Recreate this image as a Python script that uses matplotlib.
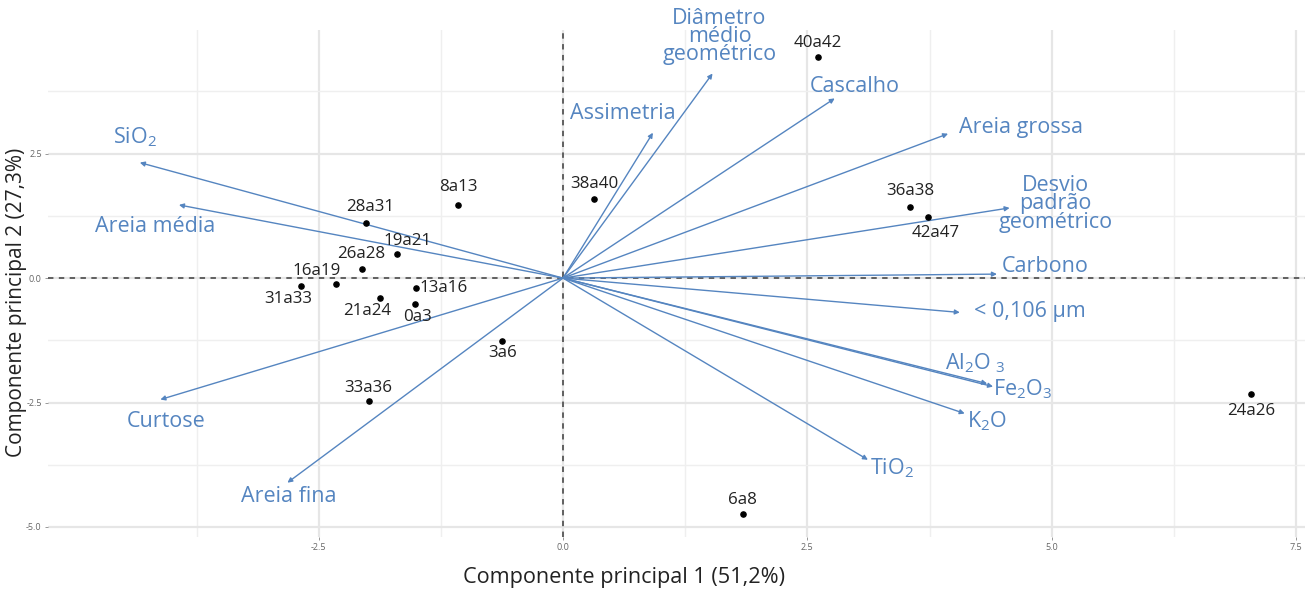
import numpy as np
import matplotlib.pyplot as plt

plt.rcParams['font.family'] = ['Open Sans', 'DejaVu Sans']
plt.rcParams['mathtext.fontset'] = 'custom'
plt.rcParams['mathtext.rm'] = 'Open Sans'
plt.rcParams['mathtext.it'] = 'Open Sans:italic'

# scores of the samples (depth intervals)
amostras = ['40a42', '8a13', '38a40', '28a31', '19a21', '26a28', '16a19', '31a33',
            '13a16', '21a24', '0a3', '3a6', '33a36', '36a38', '42a47', '24a26', '6a8']
pc1 = [2.61, -1.07, 0.32, -2.02, -1.70, -2.06, -2.32, -2.68,
       -1.50, -1.87, -1.51, -0.62, -1.99, 3.55, 3.73, 7.04, 1.84]
pc2 = [4.44, 1.47, 1.59, 1.11, 0.48, 0.18, -0.12, -0.16,
       -0.20, -0.40, -0.52, -1.27, -2.46, 1.43, 1.23, -2.32, -4.74]

# loadings (scaled) of the variables
variaveis = ['SiO$_2$', 'Areia média', 'Curtose', 'Areia fina', 'Assimetria',
             'Diâmetro\nmédio\ngeométrico', 'Cascalho', 'Areia grossa',
             'Desvio\npadrão\ngeométrico', 'Carbono', '< 0,106 µm',
             'Al$_2$O $_3$', 'Fe$_2$O$_3$', 'K$_2$O', 'TiO$_2$']
load1 = [-4.33, -3.93, -4.12, -2.82, 0.92, 1.53, 2.78, 3.94, 4.57, 4.44, 4.06, 4.34, 4.40, 4.11, 3.12]
load2 = [2.32, 1.47, -2.44, -4.11, 2.92, 4.11, 3.61, 2.90, 1.41, 0.08, -0.69, -2.12, -2.18, -2.72, -3.65]

# label offsets in pixels (dx, dy) -- roughly what ggrepel did
off_pts = [(0, 14), (0, 18), (0, 15), (5, 16), (11, 13), (0, 15), (-20, 13), (-13, -13),
           (27, 0), (-13, -13), (2, -13), (0, -12), (0, 13), (0, 16), (8, -16), (0, -17), (0, 14)]
off_var = [(-5, 25), (-24, -22), (6, -22), (1, -14), (-30, 19), (7, 37), (20, 12), (73, 6),
           (46, 4), (48, 8), (70, 1), (-12, 20), (30, -3), (22, -8), (24, -8)]

azul = '#5585c0'

fig, ax = plt.subplots(figsize=(13.14, 5.92), dpi=100)
fig.subplots_adjust(left=0.0365, right=0.993, top=0.949, bottom=0.093)

ax.set_xlim(-5.27, 7.59)
ax.set_ylim(-5.2, 4.98)
ax.set_xticks([-2.5, 0, 2.5, 5.0, 7.5])
ax.set_xticklabels(['-2.5', '0.0', '2.5', '5.0', '7.5'])
ax.set_yticks([-5.0, -2.5, 0, 2.5])
ax.set_yticklabels(['-5.0', '-2.5', '0.0', '2.5'])
ax.set_xticks([-3.75, -1.25, 1.25, 3.75, 6.25], minor=True)
ax.set_yticks([-3.75, -1.25, 1.25, 3.75], minor=True)
ax.grid(which='major', color='#e6e6e6', lw=1.6)
ax.grid(which='minor', color='#efefef', lw=1.0)
ax.set_axisbelow(True)
for s in ax.spines.values():
    s.set_visible(False)
ax.tick_params(which='major', length=2.5, width=0.6, color='#888888', labelsize=6.5,
               labelcolor='#666666', pad=2)
ax.tick_params(which='minor', length=0)

ax.axhline(0, color='#555555', lw=1.3, ls=(0, (3, 3)), zorder=1)
ax.axvline(0, color='#555555', lw=1.3, ls=(0, (3, 3)), zorder=1)

for i in range(len(variaveis)):
    ax.annotate('', xy=(load1[i], load2[i]), xytext=(0, 0),
                arrowprops=dict(arrowstyle='-|>', color=azul, lw=1.0,
                                mutation_scale=7, shrinkA=0, shrinkB=0), zorder=2)
    ax.annotate(variaveis[i], xy=(load1[i], load2[i]), xytext=off_var[i],
                textcoords='offset pixels', ha='center', va='center',
                fontsize=15.5, color=azul, linespacing=0.82, annotation_clip=False,
                zorder=3)

ax.scatter(pc1, pc2, s=14, color='black', zorder=4)
for i in range(len(amostras)):
    ax.annotate(amostras[i], xy=(pc1[i], pc2[i]), xytext=off_pts[i],
                textcoords='offset pixels', ha='center', va='center',
                fontsize=12.2, color='#222222', zorder=5)

fig.text(624 / 1314, 1 - 578 / 592, 'Componente principal 1 (51,2%)', fontsize=15.6,
         color='#222222', ha='center', va='center')
fig.text(17 / 1314, 1 - 302 / 592, 'Componente principal 2 (27,3%)', fontsize=15,
         color='#222222', ha='center', va='center', rotation=90)

plt.savefig('out.png', dpi=100)
